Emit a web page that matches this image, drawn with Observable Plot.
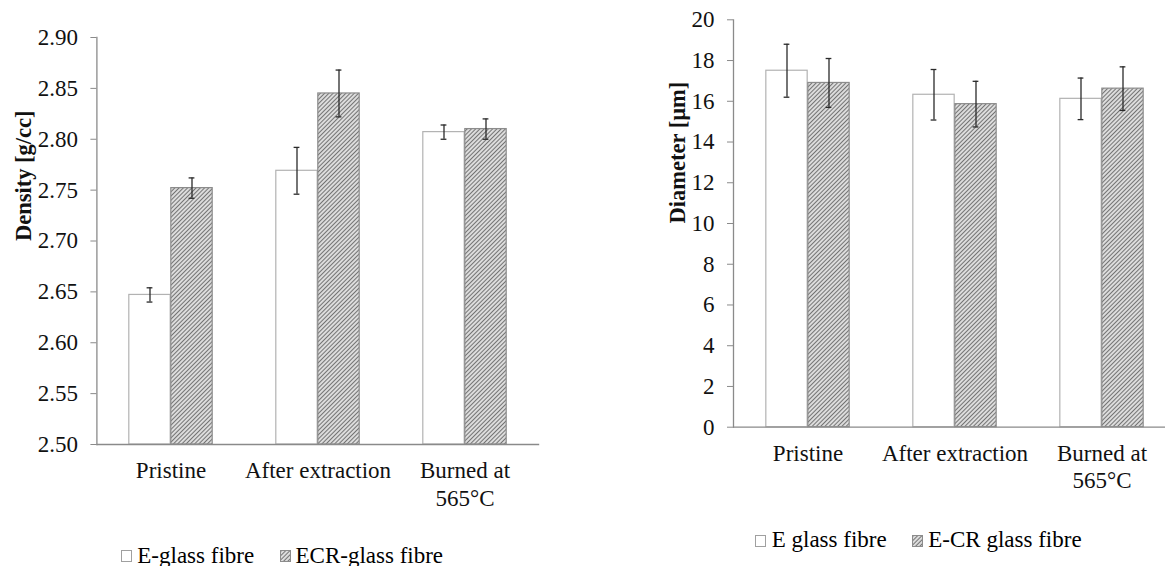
<!DOCTYPE html>
<html>
<head>
<meta charset="utf-8">
<script src="https://cdn.jsdelivr.net/npm/d3@7"></script>
<script src="https://cdn.jsdelivr.net/npm/@observablehq/plot@0.6"></script>
<style>
  html, body { margin: 0; padding: 0; background: #fff; }
  body { width: 1165px; height: 566px; position: relative; overflow: hidden;
         font-family: 'Liberation Serif', 'DejaVu Serif', serif; }
  svg text { font-family: 'Liberation Serif', 'DejaVu Serif', serif !important; }
  #left { position: absolute; left: 0; top: 0; width: 560px; }
  #right { position: absolute; left: 600px; top: 0; width: 576px; }
  #left svg, #right svg { max-width: none !important; }
  .lg-text { position: absolute; font-size: 23px; line-height: 23px; color: #000; white-space: nowrap;
             font-family: 'Liberation Serif', 'DejaVu Serif', serif; }
  .lg-sw { position: absolute; width: 11px; height: 12px; }
</style>
</head>
<body>
<svg width="0" height="0" style="position:absolute">
  <defs>
    <pattern id="hatch" patternUnits="userSpaceOnUse" width="3" height="3" patternTransform="rotate(45)">
      <rect width="3" height="3" fill="#fff"></rect>
      <line x1="1.5" y1="-1" x2="1.5" y2="4" stroke="#747474" stroke-width="1.5"></line>
    </pattern>
  </defs>
</svg>
<div id="left"></div>
<div id="right"></div>
<div id="legends"></div>
<script>
// ---------- data ----------
const categories = ["Pristine", "After extraction", "Burned at\n565°C"];

const densityLabel = "Density [g/cc]";
const densitySeries = ["E-glass fibre", "ECR-glass fibre"];
const densityE = [2.647, 2.769, 2.807];
const densityEErr = [0.007, 0.023, 0.007];
const densityECR = [2.752, 2.845, 2.810];
const densityECRErr = [0.010, 0.023, 0.010];
const densityDomain = [2.50, 2.90];
const densityTicks = [2.50, 2.55, 2.60, 2.65, 2.70, 2.75, 2.80, 2.85, 2.90];

const diameterLabel = "Diameter [µm]";
const diameterSeries = ["E glass fibre", "E-CR glass fibre"];
const diameterE = [17.5, 16.32, 16.12];
const diameterEErr = [1.3, 1.24, 1.02];
const diameterECR = [16.9, 15.86, 16.62];
const diameterECRErr = [1.2, 1.12, 1.07];
const diameterDomain = [0, 20];
const diameterTicks = [0, 2, 4, 6, 8, 10, 12, 14, 16, 18, 20];

const FONT = "'Liberation Serif', 'DejaVu Serif', serif";

// ---------- chart builder ----------
function groupedChart(cfg) {
  const {cats, a, aErr, b, bErr, domain, ticks, tickFormat, yLabel,
         width, height, mL, mR, mT, mB, barW, labelDx} = cfg;
  const rowsA = cats.map((c, i) => ({cat: c, v: a[i], e: aErr[i]}));
  const rowsB = cats.map((c, i) => ({cat: c, v: b[i], e: bErr[i]}));
  const step = (width - mL - mR) / cats.length;
  const half = step / 2;
  const cap = 3.2;
  const errStyle = {stroke: "#2a2a2a", strokeWidth: 1.3};
  return Plot.plot({
    width, height,
    marginLeft: mL, marginRight: mR, marginTop: mT, marginBottom: mB,
    style: {fontFamily: FONT, fontSize: "23px", background: "transparent", overflow: "visible", maxWidth: "none"},
    x: {domain: cats, paddingInner: 0, paddingOuter: 0, label: null},
    y: {domain, label: null},
    marks: [
      Plot.barY(rowsA, {x: "cat", y1: domain[0], y2: "v", fill: "white", stroke: "#b2b2b2", strokeWidth: 1.2,
        insetLeft: half - barW, insetRight: half}),
      Plot.barY(rowsB, {x: "cat", y1: domain[0], y2: "v", fill: "url(#hatch)", stroke: "#8c8c8c", strokeWidth: 1.2,
        insetLeft: half, insetRight: half - barW}),
      // error bars
      Plot.ruleX(rowsA, {x: "cat", y1: d => d.v - d.e, y2: d => d.v + d.e, dx: -barW / 2, ...errStyle}),
      Plot.tickY(rowsA, {x: "cat", y: d => d.v + d.e, insetLeft: half - barW / 2 - cap, insetRight: half + barW / 2 - cap, ...errStyle}),
      Plot.tickY(rowsA, {x: "cat", y: d => d.v - d.e, insetLeft: half - barW / 2 - cap, insetRight: half + barW / 2 - cap, ...errStyle}),
      Plot.ruleX(rowsB, {x: "cat", y1: d => d.v - d.e, y2: d => d.v + d.e, dx: barW / 2, ...errStyle}),
      Plot.tickY(rowsB, {x: "cat", y: d => d.v + d.e, insetLeft: half + barW / 2 - cap, insetRight: half - barW / 2 - cap, ...errStyle}),
      Plot.tickY(rowsB, {x: "cat", y: d => d.v - d.e, insetLeft: half + barW / 2 - cap, insetRight: half - barW / 2 - cap, ...errStyle}),
      // axes
      Plot.frame({anchor: "left", stroke: "#8a8a8a", strokeWidth: 1.3}),
      Plot.ruleY([domain[0]], {stroke: "#8a8a8a", strokeWidth: 1.3}),
      Plot.axisY({ticks, tickFormat, tickSize: 6, tickPadding: 13, fontSize: 23, fontFamily: FONT, stroke: "#8a8a8a", fill: "#111", label: null}),
      Plot.axisX({tickSize: 0, tickPadding: 14, fontSize: 23, fontFamily: FONT, lineHeight: 1.2, fill: "#111", label: null}),
      Plot.text([yLabel], {text: d => d, frameAnchor: "left", rotate: -90, dx: labelDx, fontSize: 22.5, fontFamily: FONT, fontWeight: "bold", fill: "#111"})
    ]
  });
}

document.getElementById("left").appendChild(groupedChart({
  cats: categories, a: densityE, aErr: densityEErr, b: densityECR, bErr: densityECRErr,
  domain: densityDomain, ticks: densityTicks, tickFormat: d3.format(".2f"), yLabel: densityLabel,
  width: 560, height: 520, mL: 96.4, mR: 20.8, mT: 37, mB: 76, barW: 42, labelDx: -73.6
}));

document.getElementById("right").appendChild(groupedChart({
  cats: categories, a: diameterE, aErr: diameterEErr, b: diameterECR, bErr: diameterECRErr,
  domain: diameterDomain, ticks: diameterTicks, tickFormat: d3.format("d"), yLabel: diameterLabel,
  width: 576, height: 505, mL: 133, mR: 0, mT: 19.3, mB: 78.3, barW: 42, labelDx: -56
}));

// ---------- legends ----------
function swatch(left, top, hatched) {
  return `<svg class="lg-sw" style="left:${left}px;top:${top}px" width="11" height="12">
    <rect x="0.5" y="0.5" width="10" height="11" fill="${hatched ? "url(#hatch)" : "#fff"}" stroke="${hatched ? "#8c8c8c" : "#a0a0a0"}" stroke-width="1"></rect></svg>`;
}
function legendText(left, top, txt) {
  return `<div class="lg-text" style="left:${left}px;top:${top}px">${txt}</div>`;
}
document.getElementById("legends").innerHTML =
  swatch(121, 550, false) + legendText(137.3, 544, densitySeries[0]) +
  swatch(280, 550, true) + legendText(295.5, 544, densitySeries[1]) +
  swatch(755, 535, false) + legendText(771.7, 527.7, diameterSeries[0]) +
  swatch(911.7, 535, true) + legendText(928.3, 527.7, diameterSeries[1]);
</script>
</body>
</html>
